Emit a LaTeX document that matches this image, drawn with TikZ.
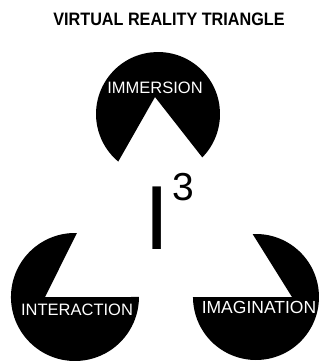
\documentclass[tikz,border=0pt]{standalone}
\usepackage{fontspec}
\setmainfont{Liberation Sans}
\begin{document}
\begin{tikzpicture}[x=1pt,y=-1pt,
  disc/.style={fill=black},
  lbl/.style={text=white,inner sep=0pt,anchor=base,font=\fontsize{16.5}{16.5}\selectfont}]
\useasboundingbox (0,0) rectangle (321,362);
% the three discs, each with its wedge cut out
\fill[disc] (155,97) -- (202.3,157.4) arc[start angle=44.4,end angle=-230.1,radius=62] -- cycle;
\fill[disc] (45,297) -- (76.98,233.03) arc[start angle=-88.2,end angle=-360,radius=64] -- cycle;
\fill[disc] (292,297) -- (252.68,234.09) arc[start angle=-93,end angle=180,radius=63] -- cycle;
\node[inner sep=0pt,anchor=base,font=\bfseries\fontsize{18}{18}\selectfont] (title) at (169,25) {\scalebox{0.9}[1]{VIRTUAL REALITY TRIANGLE}};
\node[lbl] (immersion) at (155,93) {IMMERSION};
\node[lbl] (interaction) at (77,315) {INTERACTION};
\node[lbl,font=\fontsize{17.5}{17.5}\selectfont] (imagination) at (259,313) {IMAGINATION};
\node[inner sep=0pt,anchor=base,font=\fontsize{91}{91}\selectfont] (ibar) at (157,249) {I};
\node[inner sep=0pt,anchor=base,font=\fontsize{39}{39}\selectfont] (cube) at (183,200) {3};
\end{tikzpicture}
\end{document}
